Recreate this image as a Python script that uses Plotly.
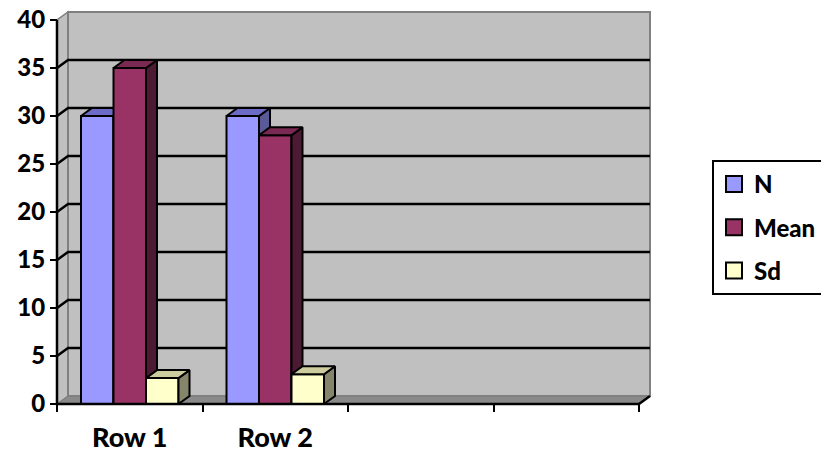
import plotly.graph_objects as go

# ---- data -------------------------------------------------------------
slot_labels = ["Row 1", "Row 2", "", ""]
series_names = ["N", "Mean", "Sd"]
n_values = [30, 30]
mean_values = [35, 28]
sd_values = [2.7, 3.1]
y_ticks = [0, 5, 10, 15, 20, 25, 30, 35, 40]

# ---- styling ----------------------------------------------------------
front_colors = ["#9999FF", "#993366", "#FFFFCC"]
top_colors = ["#6C6CC6", "#7A2952", "#CCCC9E"]
side_colors = ["#5A5A99", "#4D1A33", "#85856B"]
WALL = "#C0C0C0"
WALL_EDGE = "#808080"
FLOOR = "#8A8A8A"

W, H = 821, 452
UNIT_PX = 145.5          # pixels per category slot
VAL_PX = 9.6             # pixels per y unit
DX = 11 / UNIT_PX        # 3-D depth, x direction (data units)
DY = 8 / VAL_PX          # 3-D depth, y direction (data units)
PAD_X = 4 / UNIT_PX
PAD_Y = 4 / VAL_PX
BAR_W = 32.5 / UNIT_PX
offsets = [-1.5 * BAR_W, -0.5 * BAR_W, 0.5 * BAR_W]

n_slots = len(slot_labels)
x_lo, x_hi = -0.5, n_slots - 0.5
y_top = y_ticks[-1]
x_range = [x_lo - PAD_X, x_hi + DX + PAD_X]
y_range = [-PAD_Y, y_top + DY + PAD_Y]

ML = 57 - 4
MT = 12 - 4
plot_w = (x_range[1] - x_range[0]) * UNIT_PX
plot_h = (y_range[1] - y_range[0]) * VAL_PX
MR = W - ML - plot_w
MB = H - MT - plot_h

FONT = "Lato"

fig = go.Figure()
axes = ["x", "x2", "x3"]
all_values = [n_values, mean_values, sd_values]

for k, (name, vals) in enumerate(zip(series_names, all_values)):
    xs = list(range(len(vals)))
    fig.add_trace(go.Bar(
        x=xs, y=vals, width=BAR_W, offset=offsets[k],
        marker=dict(color=front_colors[k], line=dict(color="black", width=2)),
        xaxis=axes[k], yaxis="y", showlegend=False, name=name,
    ))
    tx, ty, sx, sy = [], [], [], []
    for i, v in enumerate(vals):
        x0 = i + offsets[k]
        x1 = x0 + BAR_W
        tx += [x0, x0 + DX, x1 + DX, x1, x0, None]
        ty += [v, v + DY, v + DY, v, v, None]
        sx += [x1, x1 + DX, x1 + DX, x1, x1, None]
        sy += [0, DY, v + DY, v, 0, None]
    fig.add_trace(go.Scatter(
        x=sx, y=sy, mode="lines", fill="toself", fillcolor=side_colors[k],
        line=dict(color="black", width=2), xaxis=axes[k], yaxis="y",
        showlegend=False, hoverinfo="skip",
    ))
    fig.add_trace(go.Scatter(
        x=tx, y=ty, mode="lines", fill="toself", fillcolor=top_colors[k],
        line=dict(color="black", width=2), xaxis=axes[k], yaxis="y",
        showlegend=False, hoverinfo="skip",
    ))
    # legend swatch (trailing no-break spaces widen the legend box)
    fig.add_trace(go.Scatter(
        x=[None], y=[None], mode="markers",
        name=name + "\u00a0" * 4, legendgroup=name,
        marker=dict(symbol="square", size=16, color=front_colors[k],
                    line=dict(color="black", width=2)),
        xaxis=axes[k], yaxis="y",
    ))


def path(points):
    return "M " + " L ".join(f"{x:.5f},{y:.5f}" for x, y in points) + " Z"


def open_path(points):
    return "M " + " L ".join(f"{x:.5f},{y:.5f}" for x, y in points)


shapes = []
# floor
shapes.append(dict(type="path", xref="x", yref="y", layer="below",
                   path=path([(x_lo, 0), (x_hi, 0), (x_hi + DX, DY), (x_lo + DX, DY)]),
                   fillcolor=FLOOR, line=dict(color=WALL_EDGE, width=1)))
# left side wall
shapes.append(dict(type="path", xref="x", yref="y", layer="below",
                   path=path([(x_lo, 0), (x_lo, y_top), (x_lo + DX, y_top + DY), (x_lo + DX, DY)]),
                   fillcolor=WALL, line=dict(color=WALL_EDGE, width=1.5)))
# back wall
shapes.append(dict(type="rect", xref="x", yref="y", layer="below",
                   x0=x_lo + DX, x1=x_hi + DX, y0=DY, y1=y_top + DY,
                   fillcolor=WALL, line=dict(color=WALL_EDGE, width=2)))
# gridlines on the side and back walls
for v in y_ticks[1:-1]:
    shapes.append(dict(type="path", xref="x", yref="y", layer="below",
                       path=open_path([(x_lo, v), (x_lo + DX, v + DY), (x_hi + DX, v + DY)]),
                       line=dict(color="black", width=2.5)))
# value axis and category axis lines
shapes.append(dict(type="path", xref="x", yref="y", layer="above",
                   path=open_path([(x_lo, y_top), (x_lo, 0), (x_hi, 0), (x_hi + DX, DY)]),
                   line=dict(color="black", width=2.5)))

x_pos = (0 - y_range[0]) / (y_range[1] - y_range[0])
y_pos = (x_lo - x_range[0]) / (x_range[1] - x_range[0])

legend_x = (712 - ML) / plot_w
legend_y = (MT + plot_h - 160) / plot_h

fig.update_layout(
    width=W, height=H,
    margin=dict(l=ML, r=MR, t=MT, b=MB, autoexpand=False),
    paper_bgcolor="white", plot_bgcolor="white",
    shapes=shapes,
    showlegend=True,
    legend=dict(
        x=legend_x, y=legend_y, xanchor="left", yanchor="top",
        bgcolor="white", bordercolor="black", borderwidth=2,
        font=dict(family=FONT, size=24, color="black", weight=900),
        tracegroupgap=9, itemsizing="trace",
    ),
    xaxis=dict(
        range=x_range, anchor="free", position=x_pos,
        tickmode="array", tickvals=list(range(n_slots)), ticktext=slot_labels,
        ticks="", showgrid=False, zeroline=False, showline=False,
        tickfont=dict(family=FONT, size=27, color="black", weight=900),
        ticklabelstandoff=15,
        minor=dict(tickmode="array",
                   tickvals=[x_lo + i for i in range(n_slots + 1)],
                   ticks="outside", ticklen=7, tickwidth=2, tickcolor="black",
                   showgrid=False),
    ),
    xaxis2=dict(range=x_range, overlaying="x", visible=False),
    xaxis3=dict(range=x_range, overlaying="x", visible=False),
    yaxis=dict(
        range=y_range, anchor="free", position=y_pos,
        tickmode="array", tickvals=y_ticks,
        ticks="outside", ticklen=7, tickwidth=2, tickcolor="black",
        showgrid=False, zeroline=False, showline=False,
        tickfont=dict(family=FONT, size=24, color="black", weight=900),
    ),
)

fig.write_html("out.html")
